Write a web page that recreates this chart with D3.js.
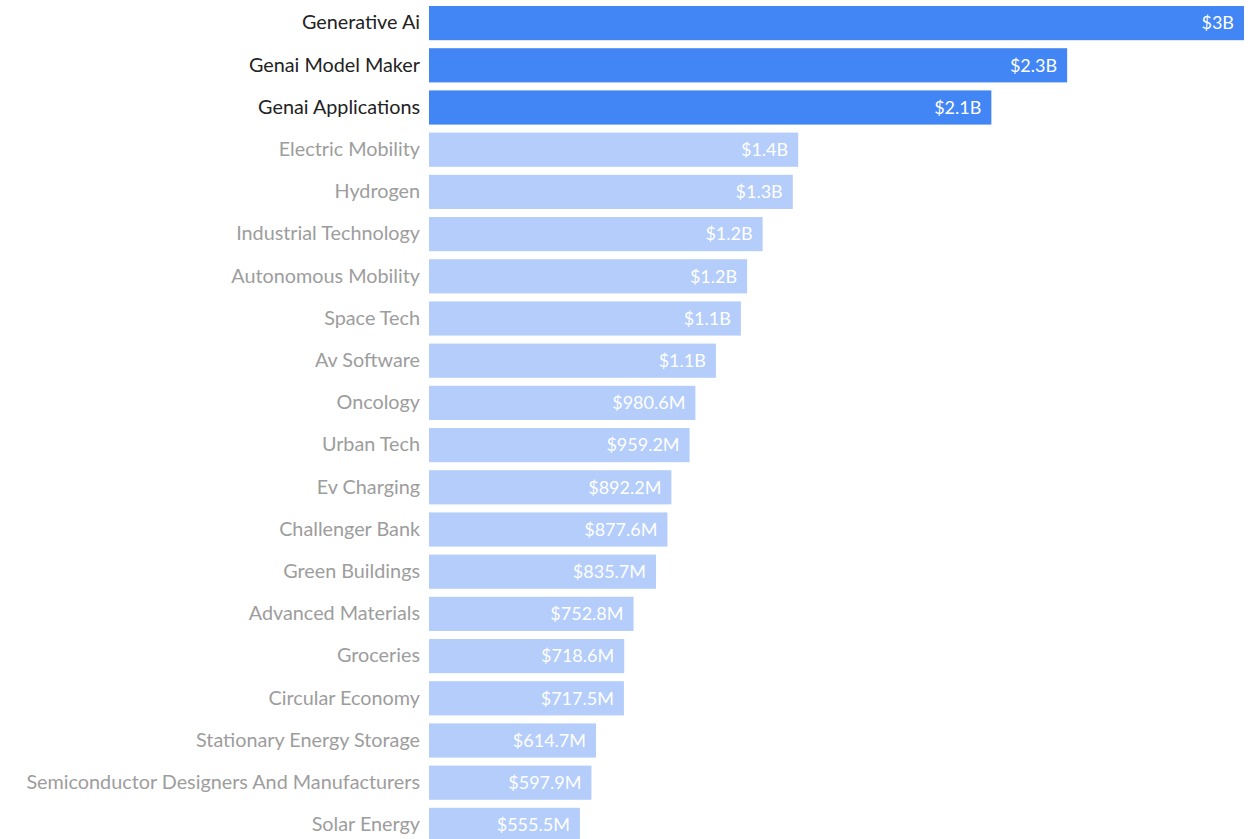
<!DOCTYPE html>
<html>
<head>
<meta charset="utf-8">
<script src="https://cdn.jsdelivr.net/npm/d3@7"></script>
<style>
  html, body { margin: 0; padding: 0; background: #fff; overflow: hidden; }
  svg text { font-family: "Source Sans Pro", Lato, "Noto Sans", sans-serif; }
</style>
</head>
<body>
<div id="chart"></div>
<script>
var categories = ["Generative Ai", "Genai Model Maker", "Genai Applications", "Electric Mobility",
  "Hydrogen", "Industrial Technology", "Autonomous Mobility", "Space Tech", "Av Software",
  "Oncology", "Urban Tech", "Ev Charging", "Challenger Bank", "Green Buildings",
  "Advanced Materials", "Groceries", "Circular Economy", "Stationary Energy Storage",
  "Semiconductor Designers And Manufacturers", "Solar Energy"];

// funding in millions of dollars
var funding = [3000, 2349, 2070, 1359, 1339, 1228, 1171, 1148, 1056,
  980.6, 959.2, 892.2, 877.6, 835.7, 752.8, 718.6, 717.5, 614.7, 597.9, 555.5];

var highlighted = ["Generative Ai", "Genai Model Maker", "Genai Applications"];

var width = 1248, height = 839;
var margin = {left: 429, right: 4};

var data = categories.map(function(c, i){ return {name: c, value: funding[i]}; });

var svg = d3.select("#chart").append("svg")
    .attr("width", width)
    .attr("height", height);

var x = d3.scaleLinear()
    .domain([0, 3000])
    .range([margin.left, width - margin.right]);

var y = d3.scaleBand()
    .domain(categories)
    .range([2, 2 + categories.length * 42.2])
    .paddingInner(0.19)
    .paddingOuter(0.095);

function fmt(v){
  if (v >= 1000) return "$" + (+(v / 1000).toFixed(1)) + "B";
  return "$" + v.toFixed(1) + "M";
}

function isHi(d){ return highlighted.indexOf(d.name) >= 0; }

svg.selectAll("rect.bar")
    .data(data)
  .enter().append("rect")
    .attr("class", "bar")
    .attr("x", x(0))
    .attr("y", function(d){ return y(d.name); })
    .attr("width", function(d){ return x(d.value) - x(0); })
    .attr("height", y.bandwidth())
    .attr("fill", function(d){ return isHi(d) ? "#4285f4" : "#b4cdfa"; });

var yAxis = d3.axisLeft(y).tickSize(0).tickPadding(9);
var gy = svg.append("g")
    .attr("transform", "translate(" + x(0) + ",0)")
    .call(yAxis);
gy.select(".domain").remove();
gy.selectAll("text")
    .style("font-size", "19.8px")
    .attr("fill", function(d){ return highlighted.indexOf(d) >= 0 ? "#222" : "#9d9d9d"; });

svg.selectAll("text.val")
    .data(data)
  .enter().append("text")
    .attr("class", "val")
    .attr("x", function(d){ return x(d.value) - 10; })
    .attr("y", function(d){ return y(d.name) + y.bandwidth() / 2; })
    .attr("dy", "0.35em")
    .attr("text-anchor", "end")
    .attr("fill", "#fff")
    .style("font-size", "18px")
    .text(function(d){ return fmt(d.value); });
</script>
</body>
</html>
